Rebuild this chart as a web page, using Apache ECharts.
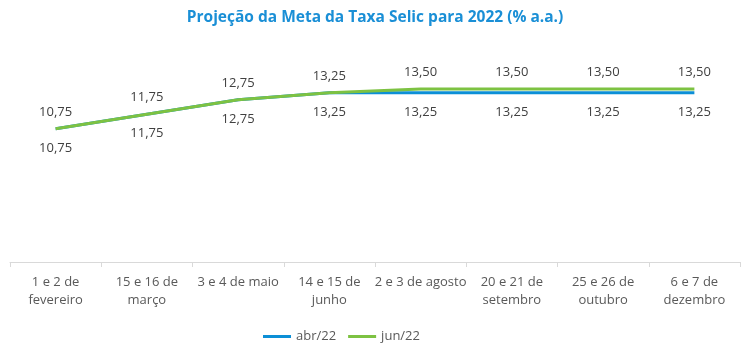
<!DOCTYPE html>
<html><head><meta charset="utf-8">
<script src="https://cdn.jsdelivr.net/npm/echarts@6/dist/echarts.min.js"></script>
<style>html,body{margin:0;padding:0;background:#fff}#c{width:750px;height:355px}</style>
</head><body><div id="c"></div>
<script>
const categories = ['1 e 2 de\nfevereiro','15 e 16 de\nmarço','3 e 4 de maio','14 e 15 de\njunho','2 e 3 de agosto','20 e 21 de\nsetembro','25 e 26 de\noutubro','6 e 7 de\ndezembro'];
const abr22 = [10.75, 11.75, 12.75, 13.25, 13.25, 13.25, 13.25, 13.25];
const jun22 = [10.75, 11.75, 12.75, 13.25, 13.50, 13.50, 13.50, 13.50];
const fmt = p => p.value.toFixed(2).replace('.', ',');
const chart = echarts.init(document.getElementById('c'));
const font = '"Open Sans", "Liberation Sans", sans-serif';
chart.setOption({
  animation: false,
  title: { text: 'Projeção da Meta da Taxa Selic para 2022 (% a.a.)', left: 'center', top: 5,
    textStyle: { color: '#1a8fd6', fontSize: 15.5, fontWeight: 'bold', fontFamily: font } },
  grid: { left: 10, right: 10, top: 53, bottom: 93 },
  legend: { bottom: 7, left: 258, itemWidth: 28, itemHeight: 3, itemGap: 12,
    icon: 'rect', textStyle: { color: '#595959', fontSize: 13, fontFamily: font },
    data: ['abr/22', 'jun/22'] },
  xAxis: { type: 'category', data: categories, boundaryGap: true,
    axisLine: { lineStyle: { color: '#d9d9d9', width: 1 } },
    axisTick: { show: true, length: 5, lineStyle: { color: '#d9d9d9' } },
    axisLabel: { color: '#595959', fontSize: 13, fontFamily: font, interval: 0, margin: 11, lineHeight: 18 } },
  yAxis: { type: 'value', min: 1.5, max: 16, show: false, splitLine: { show: false } },
  series: [
    { name: 'abr/22', type: 'line', data: abr22, symbol: 'circle', symbolSize: 0, showSymbol: true,
      lineStyle: { color: '#0c8fd6', width: 3 }, itemStyle: { color: '#0c8fd6' },
      label: { show: true, position: 'bottom', distance: 13, formatter: fmt,
        color: '#404040', fontSize: 13, fontFamily: font } },
    { name: 'jun/22', type: 'line', data: jun22, symbol: 'circle', symbolSize: 0, showSymbol: true,
      lineStyle: { color: '#7dc242', width: 3 }, itemStyle: { color: '#7dc242' },
      label: { show: true, position: 'top', distance: 10, formatter: fmt,
        color: '#404040', fontSize: 13, fontFamily: font } }
  ]
});
</script></body></html>
